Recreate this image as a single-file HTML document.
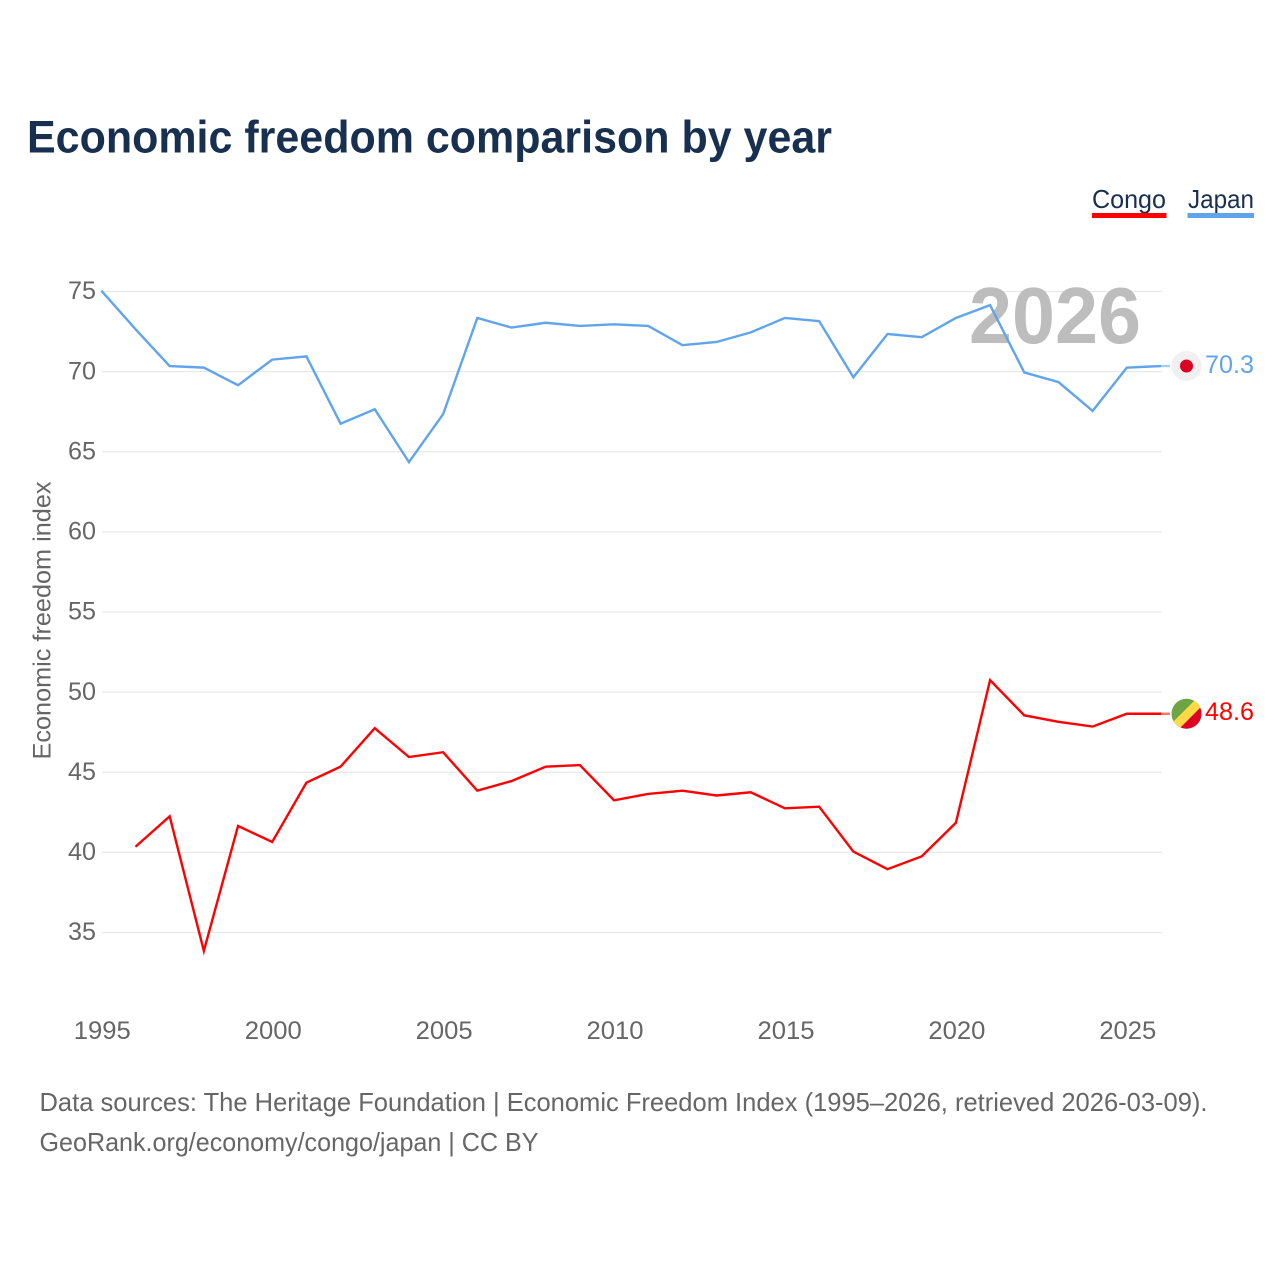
<!DOCTYPE html>
<html lang="en">
<head>
<meta charset="utf-8">
<title>Economic freedom comparison by year</title>
<style>
html,body{margin:0;padding:0;background:#fff;width:1280px;height:1280px;overflow:hidden}
svg{display:block}
text{font-family:"Liberation Sans",sans-serif}
</style>
</head>
<body>
<svg id="chart" width="1280" height="1280" viewBox="0 0 1280 1280" xmlns="http://www.w3.org/2000/svg">
  <rect width="1280" height="1280" fill="#fff"/>
  <text x="27" y="152.500" font-size="45" font-weight="700" fill="#18304f" textLength="805" lengthAdjust="spacingAndGlyphs">Economic freedom comparison by year</text>

  <g>
    <g>
      <text x="1092" y="208" font-size="26" fill="#18304f" textLength="74" lengthAdjust="spacingAndGlyphs">Congo</text>
      <rect x="1092" y="213" width="74.500" height="5" fill="#ff0000"/>
    </g>
    <g>
      <text x="1188" y="208" font-size="26" fill="#18304f" textLength="66" lengthAdjust="spacingAndGlyphs">Japan</text>
      <rect x="1187.500" y="213" width="66.500" height="5" fill="#60a5eb"/>
    </g>
  </g>

  <g id="grid"></g>
  <g id="yticks"></g>
  <g id="xticks"></g>

  <text transform="translate(50.500 620.500) rotate(-90)" text-anchor="middle" font-size="25" fill="#666" textLength="278" lengthAdjust="spacingAndGlyphs">Economic freedom index</text>

  <text x="969" y="343" font-size="80" font-weight="700" fill="#bdbdbd" textLength="172" lengthAdjust="spacingAndGlyphs">2026</text>

  <g id="series"></g>

  <g>
    <circle cx="1186.500" cy="366" r="15" fill="#f0f0f0"/>
    <circle cx="1186.500" cy="366" r="6.500" fill="#de0024"/>
  </g>
  <g>
    <defs>
      <clipPath id="flagClip"><circle cx="1186.500" cy="713.700" r="15"/></clipPath>
    </defs>
    <g clip-path="url(#flagClip)">
      <rect x="1170" y="697" width="34" height="34" fill="#6da544"/>
      <polygon points="1170,730 1204,696 1204,730" fill="#de0024"/>
      <polygon points="1170,725 1202,693 1208,700 1176,732" fill="#ffda44"/>
    </g>
  </g>

  <text id="endJapan" x="1205" y="373" font-size="25" fill="#60a5eb" textLength="49" lengthAdjust="spacingAndGlyphs"></text>
  <text id="endCongo" x="1205" y="720" font-size="25" fill="#ff0000" textLength="49" lengthAdjust="spacingAndGlyphs"></text>

  <g>
    <text x="39.500" y="1111" font-size="26" fill="#666" textLength="1168" lengthAdjust="spacingAndGlyphs">Data sources: The Heritage Foundation | Economic Freedom Index (1995–2026, retrieved 2026-03-09).</text>
    <text x="39.500" y="1151" font-size="26" fill="#666" textLength="499" lengthAdjust="spacingAndGlyphs">GeoRank.org/economy/congo/japan | CC BY</text>
  </g>
</svg>
<script>
const years = [1995,1996,1997,1998,1999,2000,2001,2002,2003,2004,2005,2006,2007,2008,2009,2010,2011,2012,2013,2014,2015,2016,2017,2018,2019,2020,2021,2022,2023,2024,2025,2026];
const congoValues = [null,40.3,42.2,33.8,41.6,40.6,44.3,45.3,47.7,45.9,46.2,43.8,44.4,45.3,45.4,43.2,43.6,43.8,43.5,43.7,42.7,42.8,40.0,38.9,39.7,41.8,50.7,48.5,48.1,47.8,48.6,48.6];
const japanValues = [75.0,72.6,70.3,70.2,69.1,70.7,70.9,66.7,67.6,64.3,67.3,73.3,72.7,73.0,72.8,72.9,72.8,71.6,71.8,72.4,73.3,73.1,69.6,72.3,72.1,73.3,74.1,69.9,69.3,67.5,70.2,70.3];
const yTicks = [35,40,45,50,55,60,65,70,75];
const xTicks = [1995,2000,2005,2010,2015,2020,2025];

const NS = 'http://www.w3.org/2000/svg';
function xScale(year){ return 101.3 + (year - 1995) * (1161 - 101.3) / (2026 - 1995); }
function yScale(value){ return 932.5 + (value - 35) * (291.5 - 932.5) / (75 - 35); }
function lineY(value){ return yScale(value) - 0.8; }
function make(tag, attrs, parent){
  const el = document.createElementNS(NS, tag);
  for (const k in attrs) el.setAttribute(k, attrs[k]);
  parent.appendChild(el);
  return el;
}
const grid = document.getElementById('grid');
const yG = document.getElementById('yticks');
const xG = document.getElementById('xticks');
const seriesG = document.getElementById('series');

yTicks.forEach(function(t){
  const line = make('line', {x1:102, x2:1162, y1:yScale(t), y2:yScale(t), stroke:'#e9e9e9', 'stroke-width':1.3}, grid);
  
  
  const label = make('text', {x:96, y:yScale(t)+7.700, 'text-anchor':'end', 'font-size':25, fill:'#666', textLength:28, lengthAdjust:'spacingAndGlyphs'}, yG);
  
  
  label.textContent = t;
});
xTicks.forEach(function(t){
  const label = make('text', {x:xScale(t)+1, y:1039, 'text-anchor':'middle', 'font-size':25, fill:'#666', textLength:57, lengthAdjust:'spacingAndGlyphs'}, xG);
  
  
  label.textContent = t;
});

function drawSeries(values, color, name){
  const pts = [];
  values.forEach(function(v, i){
    if (v !== null) pts.push(xScale(years[i]).toFixed(2) + ',' + lineY(v).toFixed(2));
  });
  const path = make('polyline', {points:pts.join(' '), fill:'none', stroke:color, 'stroke-width':2.4, 'stroke-linejoin':'miter'}, seriesG);
  
  
  const last = values[values.length - 1];
  const x = xScale(years[years.length - 1]);
  const connector = make('line', {x1:x, x2:x + 9, y1:lineY(last), y2:lineY(last), stroke:color, 'stroke-width':2.4, opacity:0.55}, seriesG);
  
  
}
drawSeries(japanValues, '#60a5eb', 'japan');
drawSeries(congoValues, '#ff0000', 'congo');

document.getElementById('endJapan').textContent = japanValues[japanValues.length - 1].toFixed(1);
document.getElementById('endCongo').textContent = congoValues[congoValues.length - 1].toFixed(1);
</script>
</body>
</html>
